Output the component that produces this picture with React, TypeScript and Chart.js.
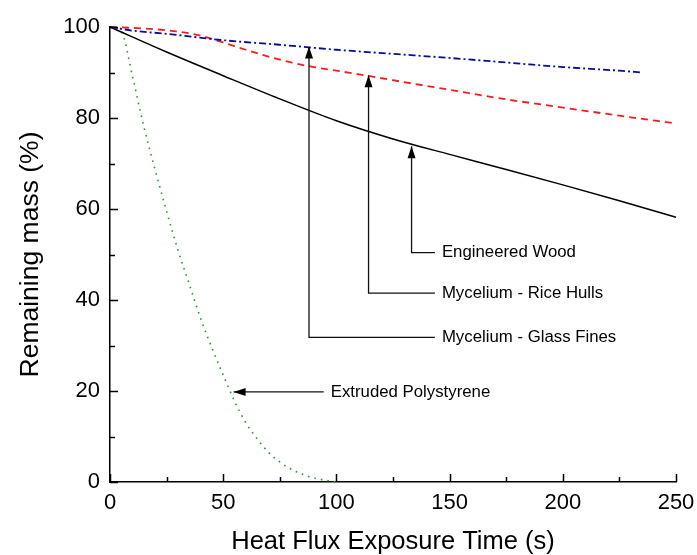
import React, { useEffect, useRef } from "react";
import { Chart, registerables } from "chart.js";
Chart.register(...registerables);

// ---- data ----
const xWood = [0, 25, 50, 75, 100, 125, 150, 175, 200, 225, 250];
const yWood = [100, 94.5, 89.3, 84.2, 79.4, 75.4, 72, 68.7, 65.3, 61.8, 58.2];

const xRice = [0, 10, 20, 30, 40, 50, 60, 70, 80, 90, 100, 110, 125, 150, 175, 200, 225, 250];
const yRice = [100, 99.8, 99.5, 99, 98.1, 96.6, 95, 93.5, 92.2, 91.2, 90.4, 89.6, 88.3, 86.2, 84.1, 82.3, 80.5, 78.8];

const xGlass = [0, 10, 25, 50, 75, 100, 125, 150, 175, 200, 225, 235];
const yGlass = [100, 99.2, 98.5, 97.1, 96.1, 95, 94.1, 93.2, 92.2, 91.2, 90.4, 90];

const xEps = [0, 5, 10, 15, 20, 25, 30, 35, 40, 45, 50, 55, 60, 65, 70, 75, 80, 85, 90, 95, 100];
const yEps = [100, 99, 89, 78, 68.5, 59.5, 51, 43.5, 36, 29.5, 23.5, 17.8, 13, 9.5, 6.5, 4.4, 2.8, 1.7, 0.9, 0.4, 0];

const xMajorTicks = [0, 50, 100, 150, 200, 250];
const xMinorTicks = [25, 75, 125, 175, 225];
const yMajorTicks = [0, 20, 40, 60, 80, 100];
const yMinorTicks = [10, 30, 50, 70, 90];

// annotations (data coordinates)
const annLabels = ["Engineered Wood", "Mycelium - Rice Hulls", "Mycelium - Glass Fines", "Extruded Polystyrene"];
const annTipX = [133.2, 114.2, 87.9, 54.6];
const annTipY = [73.8, 89.4, 95.7, 19.8];
const annElbowY = [50.4, 41.5, 31.8, 19.8];
const annEndX = [143.5, 143.5, 143.5, 94.4];

const FONT = "'Liberation Sans', Arial, sans-serif";

const pts = (xs: number[], ys: number[]) => xs.map((x, i) => ({ x, y: ys[i] }));

const overlay = {
  id: "overlay",
  afterDatasetsDraw(chart: any) {
    const { ctx, scales, chartArea } = chart;
    const xs = scales.x;
    const ys = scales.y;
    ctx.save();
    ctx.strokeStyle = "#000";
    ctx.lineWidth = 1.5;
    ctx.beginPath();
    const tick = (arr: number[], len: number, isX: boolean) => {
      arr.forEach((v) => {
        if (isX) {
          const px = Math.round(xs.getPixelForValue(v)) + 0.5;
          ctx.moveTo(px, chartArea.bottom);
          ctx.lineTo(px, chartArea.bottom - len);
        } else {
          const py = Math.round(ys.getPixelForValue(v)) + 0.5;
          ctx.moveTo(chartArea.left, py);
          ctx.lineTo(chartArea.left + len, py);
        }
      });
    };
    tick(xMajorTicks, 8, true);
    tick(xMinorTicks, 5, true);
    tick(yMajorTicks, 8, false);
    tick(yMinorTicks, 5, false);
    ctx.stroke();

    // annotations
    ctx.lineWidth = 1.3;
    ctx.strokeStyle = "#111";
    ctx.fillStyle = "#000";
    ctx.font = "16.8px " + FONT;
    ctx.textBaseline = "middle";
    ctx.textAlign = "left";
    annLabels.forEach((lab, i) => {
      const tx = xs.getPixelForValue(annTipX[i]);
      const ty = ys.getPixelForValue(annTipY[i]);
      const ey = ys.getPixelForValue(annElbowY[i]);
      const ex = xs.getPixelForValue(annEndX[i]);
      ctx.beginPath();
      ctx.moveTo(tx, ty);
      ctx.lineTo(tx, ey);
      ctx.lineTo(ex, ey);
      ctx.stroke();
      // arrow head
      let fx: number, fy: number;
      if (Math.abs(ey - ty) > 1) { fx = tx; fy = ey; } else { fx = ex; fy = ey; }
      const ang = Math.atan2(ty - fy, tx - fx);
      const L = 12, W = 4;
      ctx.beginPath();
      ctx.moveTo(tx, ty);
      ctx.lineTo(tx - L * Math.cos(ang) - W * Math.sin(ang), ty - L * Math.sin(ang) + W * Math.cos(ang));
      ctx.lineTo(tx - L * Math.cos(ang) + W * Math.sin(ang), ty - L * Math.sin(ang) - W * Math.cos(ang));
      ctx.closePath();
      ctx.fill();
      ctx.fillText(lab, ex + 7, ey);
    });
    ctx.restore();
  },
};

export default function App() {
  const ref = useRef<HTMLCanvasElement | null>(null);
  useEffect(() => {
    document.body.style.margin = "0";
    if (!ref.current) return;
    const chart = new Chart(ref.current, {
      type: "line",
      data: {
        datasets: [
          {
            label: "Mycelium - Glass Fines",
            data: pts(xGlass, yGlass),
            borderColor: "#0a0aa0",
            borderWidth: 1.8,
            borderDash: [7, 3, 2, 3],
            pointRadius: 0,
            cubicInterpolationMode: "monotone",
            clip: false as any,
          },
          {
            label: "Mycelium - Rice Hulls",
            data: pts(xRice, yRice),
            borderColor: "#ff1a1a",
            borderWidth: 1.8,
            borderDash: [7, 5],
            pointRadius: 0,
            cubicInterpolationMode: "monotone",
            clip: false as any,
          },
          {
            label: "Engineered Wood",
            data: pts(xWood, yWood),
            borderColor: "#000",
            borderWidth: 1.5,
            pointRadius: 0,
            cubicInterpolationMode: "monotone",
            clip: false as any,
          },
          {
            label: "Extruded Polystyrene",
            data: pts(xEps, yEps),
            borderColor: "#2a9a2a",
            borderWidth: 1.6,
            borderDash: [1.6, 5],
            pointRadius: 0,
            cubicInterpolationMode: "monotone",
            clip: false as any,
          },
        ],
      },
      options: {
        animation: false,
        responsive: false,
        devicePixelRatio: 1,
        layout: { padding: { left: 0, right: 21, top: 27, bottom: 0 } },
        plugins: { legend: { display: false }, tooltip: { enabled: false } },
        scales: {
          x: {
            type: "linear",
            min: 0,
            max: 250,
            ticks: { stepSize: 50, color: "#000", font: { family: FONT, size: 22 }, padding: 8, maxRotation: 0 },
            grid: { display: false, drawTicks: false },
            border: { display: true, color: "#000", width: 1.5 },
            title: {
              display: true,
              text: "Heat Flux Exposure Time (s)",
              color: "#000",
              font: { family: FONT, size: 25.5, lineHeight: 1 },
              padding: { top: 0, bottom: 0 },
            },
            afterFit(scale: any) {
              scale.height = 73;
              scale.paddingLeft = 0;
              scale.paddingRight = 0;
            },
          },
          y: {
            type: "linear",
            min: 0,
            max: 100,
            ticks: { stepSize: 20, color: "#000", font: { family: FONT, size: 22 }, padding: 10 },
            grid: { display: false, drawTicks: false },
            border: { display: true, color: "#000", width: 1.5 },
            title: {
              display: true,
              text: "Remaining mass (%)",
              color: "#000",
              font: { family: FONT, size: 26.5, lineHeight: 1 },
              padding: { top: 17, bottom: 0 },
            },
            afterFit(scale: any) {
              scale.width = 110;
              scale.paddingTop = 0;
              scale.paddingBottom = 0;
            },
          },
        },
      },
      plugins: [overlay],
    });
    return () => chart.destroy();
  }, []);
  return (
    <div style={{ width: 697, height: 555, position: "relative" }}>
      <canvas ref={ref} width={697} height={555} style={{ display: "block" }} />
    </div>
  );
}
